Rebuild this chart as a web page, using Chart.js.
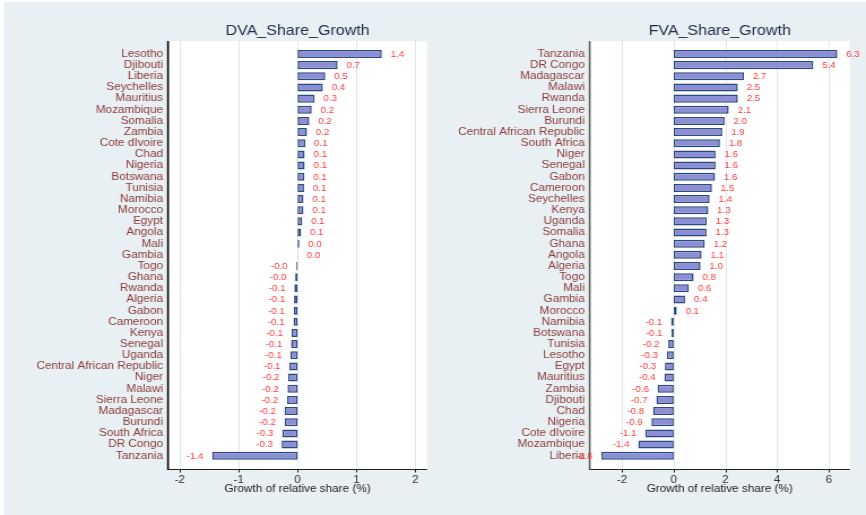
<!DOCTYPE html>
<html>
<head>
<meta charset="utf-8">
<script src="https://cdn.jsdelivr.net/npm/chart.js@4/dist/chart.umd.min.js"></script>
<style>
  body { margin: 0; background: #ffffff; }
  #bg { position: absolute; left: 4px; top: 2px; width: 862px; height: 513px; background: #e9f0f3; }
  .panel { position: absolute; top: 0; width: 383px; height: 515px; transform: scaleX(1.1305); transform-origin: 0 0; }
</style>
</head>
<body>
<div id="bg"></div>
<div class="panel" style="left:0px"><canvas id="dvaChart" width="383" height="515"></canvas></div>
<div class="panel" style="left:433px"><canvas id="fvaChart" width="383" height="515"></canvas></div>
<script>
const dvaCountries = ['Lesotho', 'Djibouti', 'Liberia', 'Seychelles', 'Mauritius', 'Mozambique', 'Somalia', 'Zambia',
  'Cote dIvoire', 'Chad', 'Nigeria', 'Botswana', 'Tunisia', 'Namibia', 'Morocco', 'Egypt', 'Angola', 'Mali', 'Gambia',
  'Togo', 'Ghana', 'Rwanda', 'Algeria', 'Gabon', 'Cameroon', 'Kenya', 'Senegal', 'Uganda', 'Central African Republic',
  'Niger', 'Malawi', 'Sierra Leone', 'Madagascar', 'Burundi', 'South Africa', 'DR Congo', 'Tanzania'];
const dvaValues = [1.43, 0.68, 0.47, 0.43, 0.29, 0.24, 0.2, 0.16, 0.13, 0.12, 0.12, 0.115, 0.11, 0.1, 0.1, 0.08, 0.06,
  0.03, 0.005, -0.02, -0.04, -0.055, -0.06, -0.065, -0.07, -0.1, -0.11, -0.12, -0.14, -0.16, -0.17, -0.18, -0.22,
  -0.22, -0.26, -0.27, -1.45];

const fvaCountries = ['Tanzania', 'DR Congo', 'Madagascar', 'Malawi', 'Rwanda', 'Sierra Leone', 'Burundi',
  'Central African Republic', 'South Africa', 'Niger', 'Senegal', 'Gabon', 'Cameroon', 'Seychelles', 'Kenya', 'Uganda',
  'Somalia', 'Ghana', 'Angola', 'Algeria', 'Togo', 'Mali', 'Gambia', 'Morocco', 'Namibia', 'Botswana', 'Tunisia',
  'Lesotho', 'Egypt', 'Mauritius', 'Zambia', 'Djibouti', 'Chad', 'Nigeria', 'Cote dIvoire', 'Mozambique', 'Liberia'];
const fvaValues = [6.33, 5.4, 2.72, 2.48, 2.48, 2.13, 1.97, 1.88, 1.79, 1.62, 1.62, 1.6, 1.48, 1.39, 1.34, 1.28, 1.27,
  1.2, 1.08, 1.04, 0.77, 0.59, 0.44, 0.12, -0.1, -0.09, -0.21, -0.27, -0.34, -0.36, -0.62, -0.67, -0.8, -0.86, -1.1,
  -1.37, -2.8];

const xTitle = 'Growth of relative share (%)';

Chart.defaults.font.family = '"Liberation Sans", Arial, sans-serif';

// white plot region, grid lines and axis lines, a bit taller than the chart area
const frame = {
  id: 'frame',
  beforeDraw(chart, args, options) {
    const { ctx, chartArea: { left, right, top, bottom }, scales: { x } } = chart;
    const fTop = top - 7.4;
    const fBottom = bottom + 7.7;
    ctx.save();
    ctx.fillStyle = '#ffffff';
    ctx.fillRect(left, fTop, right - left, fBottom - fTop);

    ctx.strokeStyle = '#e0e8ec';
    ctx.lineWidth = 1;
    x.ticks.forEach((t) => {
      const px = Math.round(x.getPixelForValue(t.value)) + 0.5;
      ctx.beginPath();
      ctx.moveTo(px, fTop);
      ctx.lineTo(px, fBottom);
      ctx.stroke();
    });

    ctx.strokeStyle = '#222';
    ctx.beginPath();
    x.ticks.forEach((t) => {
      const px = Math.round(x.getPixelForValue(t.value)) + 0.5;
      ctx.moveTo(px, fBottom);
      ctx.lineTo(px, fBottom + 3.5);
    });
    ctx.moveTo(left, fBottom + 0.5);
    ctx.lineTo(right, fBottom + 0.5);
    ctx.stroke();

    ctx.strokeStyle = options.axisColor;
    ctx.lineWidth = 1.6;
    ctx.beginPath();
    ctx.moveTo(left, fTop);
    ctx.lineTo(left, fBottom + 1);
    ctx.stroke();
    ctx.restore();
  },
};

const panelTitle = {
  id: 'panelTitle',
  afterDraw(chart, args, options) {
    const { ctx, chartArea: { left, right } } = chart;
    ctx.save();
    ctx.font = '14.2px "Liberation Sans", Arial, sans-serif';
    ctx.fillStyle = '#1f2b4b';
    ctx.textAlign = 'center';
    ctx.textBaseline = 'middle';
    ctx.fillText(options.text, (left + right) / 2, 31);
    ctx.restore();
  },
};

const valueLabels = {
  id: 'valueLabels',
  afterDatasetsDraw(chart) {
    const { ctx } = chart;
    const values = chart.data.datasets[0].data;
    ctx.save();
    ctx.font = '8.6px "Liberation Sans", Arial, sans-serif';
    ctx.fillStyle = '#ff3b3b';
    ctx.textBaseline = 'middle';
    chart.getDatasetMeta(0).data.forEach((bar, i) => {
      const v = values[i];
      if (v >= 0) {
        ctx.textAlign = 'left';
        ctx.fillText(v.toFixed(1), bar.x + 7.8, bar.y + 0.5);
      } else {
        ctx.textAlign = 'right';
        ctx.fillText(v.toFixed(1), bar.x - 7.8, bar.y + 0.5);
      }
    });
    ctx.restore();
  },
};

function makeConfig(labels, values, title, xMin, xMax, step, axisWidth, padRight, axisColor) {
  return {
    type: 'bar',
    data: {
      labels: labels,
      datasets: [
        {
          data: values,
          backgroundColor: '#8c8ed6',
          borderColor: '#2b4a7e',
          borderWidth: 1.5,
          borderSkipped: false,
          barPercentage: 0.72,
          categoryPercentage: 1,
        },
      ],
    },
    options: {
      indexAxis: 'y',
      responsive: false,
      animation: false,
      devicePixelRatio: 1,
      layout: { padding: { left: 0, right: padRight, top: 48.4, bottom: 0 } },
      scales: {
        y: {
          afterFit(scale) {
            scale.width = axisWidth;
          },
          grid: { display: false, drawTicks: false },
          border: { display: false },
          ticks: {
            autoSkip: false,
            padding: 4.4,
            color: '#8c3a3a',
            font: { size: 10.4 },
          },
        },
        x: {
          min: xMin,
          max: xMax,
          afterFit(scale) {
            scale.height = 53.7;
          },
          grid: { display: false, drawTicks: false },
          border: { display: false },
          ticks: {
            stepSize: step,
            includeBounds: false,
            padding: 12.5,
            color: '#333',
            font: { size: 10.4 },
          },
          title: {
            display: true,
            text: xTitle,
            color: '#222',
            font: { size: 10.4 },
            padding: { top: 0, bottom: 19.6 },
          },
        },
      },
      plugins: {
        legend: { display: false },
        tooltip: { enabled: false },
        frame: { axisColor: axisColor },
        panelTitle: { text: title },
      },
    },
    plugins: [frame, panelTitle, valueLabels],
  };
}

const dvaChart = new Chart(
  document.getElementById('dvaChart'),
  makeConfig(dvaCountries, dvaValues, 'DVA_Share_Growth', -2.2, 2.2, 1, 148.6, 4.4, '#000')
);

const fvaChart = new Chart(
  document.getElementById('fvaChart'),
  makeConfig(fvaCountries, fvaValues, 'FVA_Share_Growth', -3.25, 6.81, 2, 138.6, 14.4, '#555')
);
</script>
</body>
</html>
